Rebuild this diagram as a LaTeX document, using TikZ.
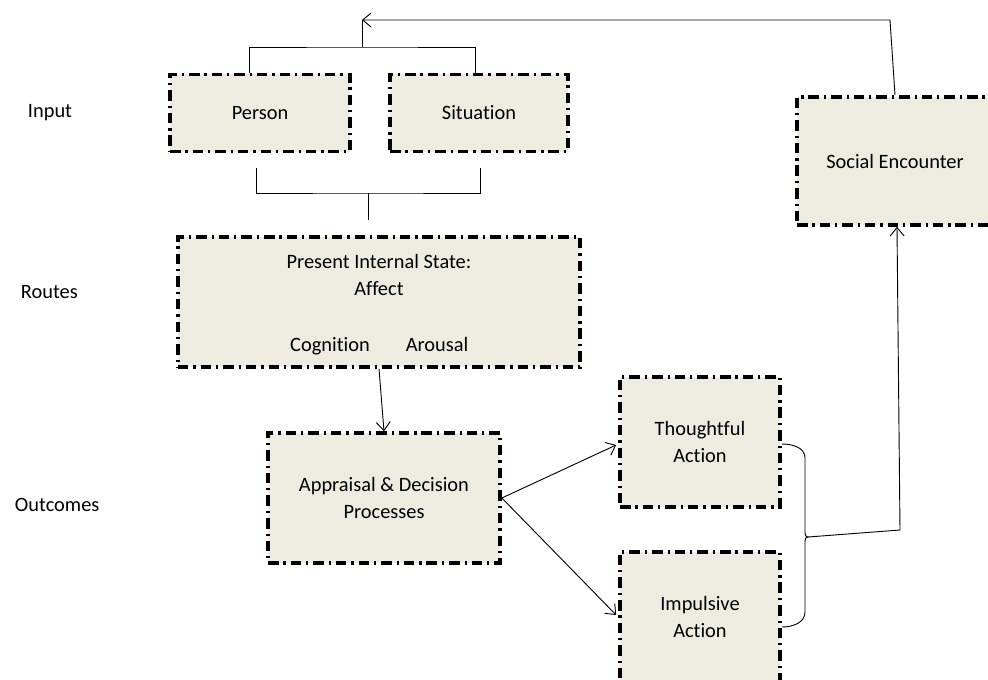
\documentclass[tikz,border=0pt]{standalone}
\usepackage{fontspec}
\setmainfont{Carlito}[Ligatures=NoCommon]
\usetikzlibrary{arrows.meta}

\definecolor{boxfill}{HTML}{EEECE1}
\tikzset{
  stage/.style={draw=black, fill=boxfill, line width=2.6pt,
    dash pattern=on 7.5pt off 3.5pt on 1.6pt off 3.5pt,
    inner sep=0pt, align=center},
  link/.style={line width=0.65pt},
  arr/.style={link, -{Straight Barb[length=6pt,width=10pt]}}
}

\begin{document}
\begin{tikzpicture}[x=0.025cm,y=-0.025cm,font=\fontsize{14.5}{19.5}\selectfont]
  \useasboundingbox (0,0) rectangle (988,679);
  % level labels
  \node[anchor=west] (lblinput) at (23,113) {Input};
  \node[anchor=west] (lblroutes) at (16,292) {Routes};
  \node[anchor=west] (lbloutcomes) at (10,505) {Outcomes};
  % boxes
  \node[stage, minimum width=4.5cm, minimum height=1.925cm] (person) at (260,113) {Person};
  \node[stage, minimum width=4.45cm, minimum height=1.925cm] (situation) at (479,113) {Situation};
  \node[stage, minimum width=10.05cm, minimum height=3.25cm] (present) at (379,302) {};
  \node (presenttitle) at (379,275) [align=center] {Present Internal State:\\Affect};
  \node[anchor=base] (cognition) at (330,351) {Cognition};
  \node[anchor=base] (arousal) at (437,351) {Arousal};
  \node[stage, minimum width=5.8cm, minimum height=3.25cm] (appraisal) at (384,498) {Appraisal \& Decision\\Processes};
  \node[stage, minimum width=4cm, minimum height=3.25cm] (thoughtful) at (700,442) {Thoughtful\\Action};
  \node[stage, minimum width=4cm, minimum height=3.25cm] (impulsive) at (700,617) {Impulsive\\Action};
  \node[stage, minimum width=4.9cm, minimum height=3.2cm] (social) at (895,161) {Social Encounter};
  % brackets over and under the inputs
  \coordinate (topjoin) at (362,47);
  \coordinate (botjoin) at (368,193);
  \draw[link] ([shift={(-11,0)}]person.north) |- (topjoin) -| ([shift={(-4,0)}]situation.north);
  \draw[link] ([shift={(-4,15)}]person.south) |- (botjoin) -| ([shift={(1,15)}]situation.south);
  \draw[link, shorten >=0.375cm] (botjoin) -- (botjoin |- present.north);
  % feedback loop
  \coordinate (fbcorner) at (890,20);
  \draw[link] (topjoin) -- (topjoin |- fbcorner);
  \draw[arr] (social.north) -- (fbcorner) -- (topjoin |- fbcorner);
  % main flow
  \draw[arr] (present.south) -- (appraisal.north);
  \draw[arr] (appraisal.east) -- ([shift={(-2,3)}]thoughtful.west);
  \draw[arr] (appraisal.east) -- ([shift={(-2,-2)}]impulsive.west);
  % brace joining both actions
  \coordinate (bracetip) at (808,537);
  \draw[link] ([shift={(0,2)}]thoughtful.east) to[out=0,in=90] (805,458) -- (805,528)
    to[out=-90,in=180] (bracetip) to[out=180,in=90] (805,546) -- (805,612)
    to[out=-90,in=0] ([shift={(0,10)}]impulsive.east);
  \coordinate (riser) at (900,530);
  \draw[arr] (bracetip) -- (riser) -- ([shift={(2,0)}]social.south);
\end{tikzpicture}
\end{document}
